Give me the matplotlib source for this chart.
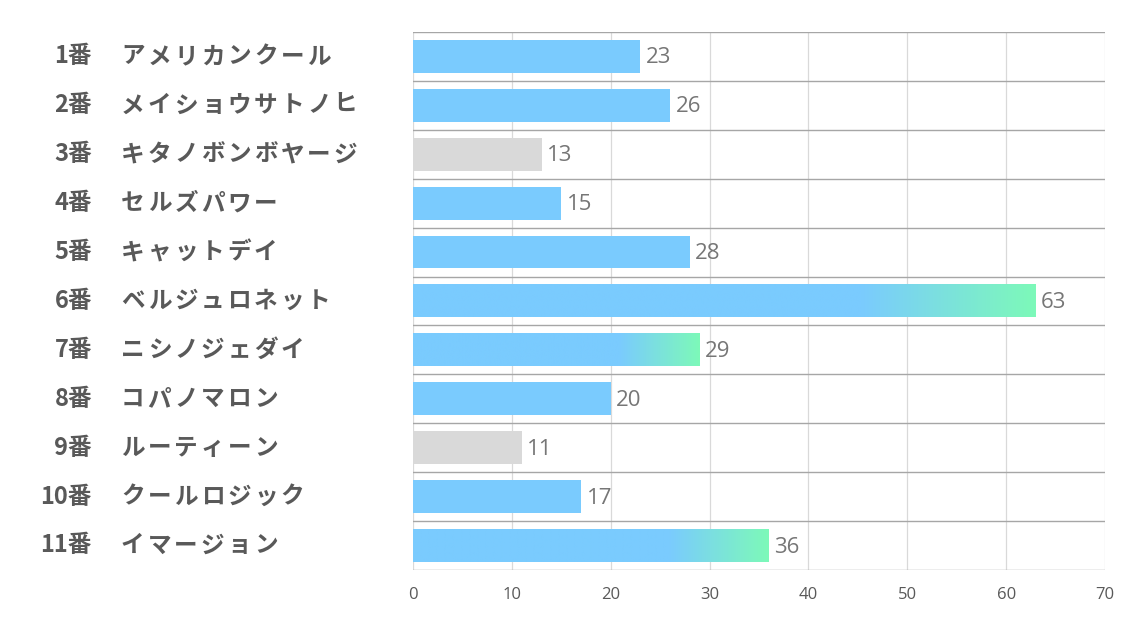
import matplotlib
matplotlib.use("Agg")
import matplotlib.pyplot as plt
import numpy as np
from matplotlib.colors import LinearSegmentedColormap

plt.rcParams['font.family'] = ['Noto Sans CJK JP', 'DejaVu Sans']

numbers = ["1番", "2番", "3番", "4番", "5番", "6番", "7番", "8番", "9番", "10番", "11番"]
names = ["アメリカンクール", "メイショウサトノヒ", "キタノボンボヤージ", "セルズパワー", "キャットデイ",
         "ベルジュロネット", "ニシノジェダイ", "コパノマロン", "ルーティーン", "クールロジック", "イマージョン"]
values = [23, 26, 13, 15, 28, 63, 29, 20, 11, 17, 36]
styles = ["blue", "blue", "gray", "blue", "blue", "grad", "grad", "blue", "gray", "blue", "grad"]
xticks = [0, 10, 20, 30, 40, 50, 60, 70]

BLUE = "#7ACBFE"
GREEN = "#7DF9B9"
GRAY = "#D9D9D9"
TXT = "#595959"
numfont = ['Open Sans', 'DejaVu Sans']

fig = plt.figure(figsize=(11.34, 6.23), dpi=100)
ax = fig.add_axes([413/1134, 1-570/623, 692/1134, 538/623])

n = len(values)
h = 0.67
cmap = LinearSegmentedColormap.from_list("bg", [BLUE, GREEN])

for i, (v, s) in enumerate(zip(values, styles)):
    if s == "gray":
        ax.barh(i, v, height=h, color=GRAY, zorder=2)
    elif s == "blue":
        ax.barh(i, v, height=h, color=BLUE, zorder=2)
    else:
        start = v * 0.72
        xs = np.linspace(0, v, 400)
        g = np.clip((xs - start) / (v - start), 0, 1)
        ax.imshow(g[np.newaxis, :], cmap=cmap, aspect='auto',
                  extent=[0, v, i + h/2, i - h/2], zorder=2, interpolation='bilinear')
    ax.text(v + 0.55, i + 0.03, str(v), va='center', ha='left', fontsize=16,
            color="#767676", family=numfont, zorder=3)

ax.set_xlim(0, 70)
ax.set_ylim(n - 0.5, -0.5)

for x in xticks:
    ax.axvline(x, color="#D9D9D9", lw=0.9, zorder=1)
for k in range(n + 1):
    ax.axhline(k - 0.5, color="#A6A6A6", lw=1.0, zorder=2.6)

for sp in ax.spines.values():
    sp.set_visible(False)

ax.set_yticks([])
ax.set_xticks(xticks)
ax.set_xticklabels([str(t) for t in xticks], family=numfont, fontsize=12, color=TXT)
ax.tick_params(axis='x', length=0, pad=12)

pitch = 26.6
for i, (num, name) in enumerate(zip(numbers, names)):
    y = 1 - (32 + 48.9 * (i + 0.5)) / 623
    fig.text(92/1134, y, num, ha='right', va='center', fontsize=17, fontweight='bold', color=TXT)
    for k, ch in enumerate(name):
        fig.text((121 + k * pitch)/1134, y, ch, ha='left', va='center', fontsize=17,
                 fontweight='bold', color=TXT)

fig.savefig("out.png", dpi=100)
